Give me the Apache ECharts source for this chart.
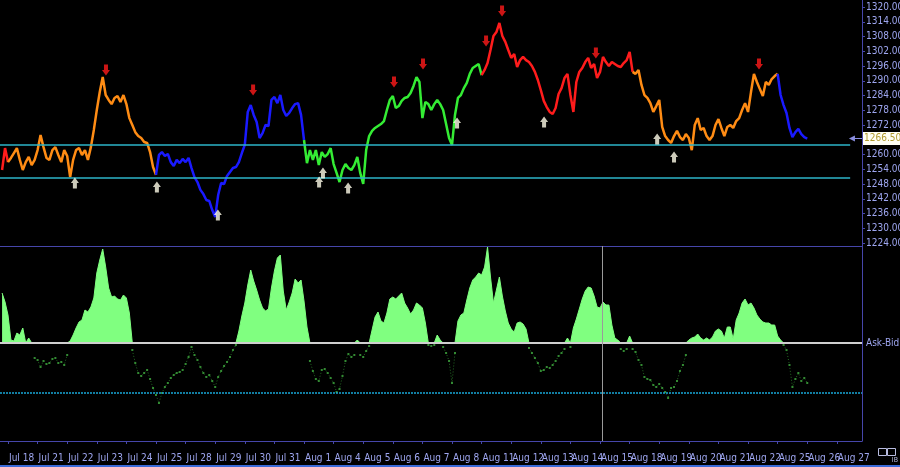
<!DOCTYPE html>
<html>
<head>
<meta charset="utf-8">
<script src="https://cdn.jsdelivr.net/npm/echarts@6/dist/echarts.min.js"></script>
<style>
  html, body { margin: 0; padding: 0; background: #000; }
  #chart { width: 900px; height: 467px; }
</style>
</head>
<body>
<div id="chart"></div>
<script>
// trading days on the x axis (one unit = one session)
const days = ['Jul 18', 'Jul 21', 'Jul 22', 'Jul 23', 'Jul 24', 'Jul 25', 'Jul 28', 'Jul 29', 'Jul 30', 'Jul 31',
  'Aug 1', 'Aug 4', 'Aug 5', 'Aug 6', 'Aug 7', 'Aug 8', 'Aug 11', 'Aug 12', 'Aug 13', 'Aug 14', 'Aug 15',
  'Aug 18', 'Aug 19', 'Aug 20', 'Aug 21', 'Aug 22', 'Aug 25', 'Aug 26', 'Aug 27'];

const priceTicks = [1224, 1230, 1236, 1242, 1248, 1254, 1260, 1272, 1278, 1284, 1290, 1296, 1302, 1308, 1314, 1320];

// samples: 10 per session, first one 0.2 session before Jul 18
const SAMPLE_START = -0.2;
const SAMPLES_PER_DAY = 10;

const price = [
  1253.7, 1262.6,
  1256.9, 1258.6, 1260.6, 1262.6, 1257.8, 1253.7, 1256.9, 1259.0, 1255.7, 1257.8,
  1261.8, 1267.9, 1263.0, 1258.6, 1257.8, 1261.8, 1263.0, 1259.8, 1256.9, 1261.8,
  1259.4, 1250.8, 1257.8, 1261.8, 1262.6, 1259.8, 1261.8, 1257.8, 1263.0, 1270.0,
  1278.1, 1285.4, 1291.5, 1284.2, 1282.2, 1280.5, 1283.0, 1283.8, 1281.4, 1284.2,
  1280.5, 1274.8, 1272.0, 1269.1, 1267.5, 1266.7, 1265.1, 1264.7, 1261.0, 1254.9,
  1251.7, 1259.8, 1261.0, 1259.4, 1260.2, 1256.9, 1255.3, 1257.8, 1256.5, 1258.2,
  1256.9, 1258.6, 1254.5, 1250.8, 1248.8, 1245.6, 1243.9, 1241.5, 1241.1, 1237.4,
  1234.6, 1243.5, 1248.4, 1248.0, 1251.3, 1252.9, 1254.5, 1254.9, 1256.9, 1260.6,
  1263.9, 1277.3, 1280.1, 1276.1, 1273.2, 1266.7, 1268.7, 1272.0, 1271.6, 1282.2,
  1283.4, 1280.9, 1284.2, 1278.1, 1275.7, 1276.9, 1278.9, 1280.5, 1280.9, 1276.1,
  1265.9, 1256.5, 1261.8, 1257.8, 1261.8, 1255.7, 1261.0, 1259.0, 1260.2, 1262.6,
  1256.1, 1252.5, 1248.8, 1253.7, 1256.1, 1254.5, 1253.7, 1255.7, 1259.0, 1252.5,
  1248.0, 1261.8, 1267.5, 1269.6, 1270.8, 1271.6, 1272.4, 1273.6, 1278.1, 1282.2,
  1283.8, 1278.9, 1279.7, 1281.8, 1283.0, 1283.4, 1285.0, 1287.9, 1291.5, 1289.5,
  1274.8, 1281.4, 1280.5, 1278.1, 1280.5, 1282.2, 1280.5, 1278.1, 1272.4, 1266.7,
  1263.9, 1276.1, 1283.0, 1284.2, 1287.0, 1289.1, 1292.8, 1295.2, 1296.0, 1296.8,
  1292.3, 1294.4, 1297.2, 1302.5, 1308.2, 1309.8, 1313.5, 1308.2, 1305.8, 1302.5,
  1299.3, 1300.9, 1295.6, 1298.4, 1299.7, 1298.4, 1297.6, 1296.0, 1293.6, 1290.3,
  1286.2, 1281.8, 1279.3, 1277.3, 1276.5, 1278.9, 1284.6, 1287.0, 1291.1, 1292.8,
  1284.2, 1277.3, 1289.5, 1293.6, 1295.2, 1297.6, 1299.3, 1295.2, 1296.8, 1291.1,
  1293.6, 1299.7, 1297.6, 1296.0, 1297.6, 1296.8, 1296.0, 1295.6, 1297.2, 1298.4,
  1301.7, 1293.6, 1292.8, 1294.4, 1288.3, 1284.2, 1283.0, 1280.9, 1277.3, 1279.7,
  1282.2, 1271.2, 1267.5, 1265.9, 1264.7, 1267.5, 1269.6, 1267.1, 1265.9, 1268.3,
  1266.7, 1261.8, 1272.0, 1274.8, 1270.0, 1270.8, 1267.5, 1265.9, 1267.5, 1272.0,
  1274.4, 1270.8, 1267.5, 1271.2, 1272.0, 1270.8, 1273.6, 1274.8, 1278.1, 1280.9,
  1277.3, 1285.4, 1292.8, 1289.5, 1286.6, 1283.8, 1289.5, 1288.3, 1290.7, 1291.9,
  1292.8, 1284.2, 1280.1, 1276.9, 1270.8, 1267.1, 1269.1, 1270.4, 1268.3, 1267.1,
  1266.5
];

// sample index where the trend colour changes, and the trend state of each stretch
const trendBreaks = [0, 2, 52, 102, 162, 213, 262, 272];
const trendState = ['down', 'range', 'weak', 'up', 'down', 'range', 'weak'];

// ask-bid oscillator, same sampling as price
const askBid = [
  50, 41,
  28, 3, 2, 10, 8, 15, 0, 5, 0, -15,
  -17, -24, -18, -21, -20, -16, -15, -20, -19, -22,
  -12, 2, 8, 15, 21, 23, 33, 31, 36, 45,
  70, 83, 94, 76, 55, 46, 47, 44, 43, 48,
  45, 30, -7, -20, -30, -33, -30, -27, -36, -45,
  -52, -60, -50, -44, -40, -35, -32, -30, -29, -27,
  -21, -14, -4, -12, -17, -24, -30, -34, -32, -38,
  -44, -34, -28, -23, -19, -14, -7, -2, 12, 27,
  40, 58, 73, 62, 53, 43, 35, 32, 34, 55,
  72, 85, 88, 52, 33, 41, 50, 64, 60, 63,
  42, 16, -18, -28, -36, -38, -27, -26, -30, -35,
  -40, -49, -46, -33, -18, -11, -14, -12, 3, -12,
  -14, -8, -3, 13, 26, 31, 22, 20, 30, 44,
  46, 44, 47, 50, 40, 35, 29, 33, 40, 38,
  35, 20, -2, -3, -2, 8, 3, -4, -10, -18,
  -40, -10, 22, 28, 30, 43, 55, 63, 66, 70,
  68, 76, 96, 66, 40, 53, 66, 47, 32, 20,
  14, 11, 20, 21, 19, 14, -5, -10, -15, -20,
  -28, -27, -24, -25, -22, -18, -13, -10, -6, 5,
  -4, 15, 24, 34, 44, 52, 56, 55, 47, 36,
  35, 41, 38, 38, 18, 5, 3, -6, -8, -6,
  7, -6, -9, -17, -22, -34, -36, -37, -42, -44,
  -41, -45, -49, -55, -45, -44, -38, -28, -22, -12,
  3, 5, 6, 9, 5, 3, 5, 3, 6, 12,
  14, 12, 5, 16, 16, 4, 23, 30, 40, 44,
  38, 40, 35, 28, 24, 21, 20, 20, 18, 18,
  7, 3, -2, -7, -22, -44, -36, -30, -38, -35,
  -40
];

// signal arrows [session, price]
const sellSignals = [[3.31, 1294.4], [8.28, 1286.2], [13.04, 1289.5], [14.02, 1296.8],
  [16.15, 1306.2], [16.69, 1318.4], [19.86, 1301.3], [25.37, 1296.8]];
const buySignals = [[2.26, 1248.4], [5.03, 1246.8], [7.09, 1235.4], [10.51, 1248.8], [10.64, 1252.5],
  [11.49, 1246.4], [15.17, 1272.8], [18.11, 1273.2], [21.93, 1266.3], [22.50, 1259.0]];

const supportLevels = [1263.8, 1250.5];
const lastPrice = 1266.5;
const askBidLevel = -50;
const cursorDay = 20.07;

// ---- styling ----
const FONT = "'Liberation Sans Narrow', 'DejaVu Sans Condensed', 'Liberation Sans', Arial, sans-serif";
const AXIS_COLOR = '#4646aa';
const LABEL_COLOR = '#9ea6f0';
const trendPalette = { down: '#ff1c1c', range: '#ff8c14', weak: '#1a1aff', up: '#34ec34' };
const X_MIN = -0.27;
const X_MAX = 28.85;
const ARROW_UP = 'path://M5,0 L10,5 L7.5,5 L7.5,10 L2.5,10 L2.5,5 L0,5 Z';
const ARROW_DOWN = 'path://M2.5,0 L7.5,0 L7.5,5 L10,5 L5,10 L0,5 L2.5,5 Z';

function dayAt(i) {
  return Math.round((SAMPLE_START + i / SAMPLES_PER_DAY) * 100) / 100;
}

const dayTicks = days.map((d, i) => i);
// labels sit tight; split them over two axes so none gets hidden as an overlap
const evenDays = dayTicks.filter((d) => d % 2 === 0);
const oddDays = dayTicks.filter((d) => d % 2 === 1);

const dayLabel = {
  formatter: (v) => days[Math.round(v)] || '',
  hideOverlap: false,
  showMinLabel: true,
  showMaxLabel: true,
  align: 'left',
  margin: 12,
  padding: [0, 0, 0, 1],
  color: LABEL_COLOR,
  fontSize: 10,
  fontFamily: FONT,
};

const series = [];

// price line, one series per trend stretch
trendState.forEach((state, k) => {
  const from = trendBreaks[k];
  const to = trendBreaks[k + 1];
  const data = [];
  for (let i = from; i <= to; i++) data.push([dayAt(i), price[i]]);
  series.push({
    type: 'line',
    xAxisIndex: 0,
    yAxisIndex: 0,
    data,
    showSymbol: false,
    lineStyle: { color: trendPalette[state], width: 2.5 },
    itemStyle: { color: trendPalette[state] },
    z: 3,
  });
});

series.push({
  type: 'scatter',
  xAxisIndex: 0,
  yAxisIndex: 0,
  data: sellSignals,
  symbol: ARROW_DOWN,
  symbolSize: [8, 11],
  itemStyle: { color: '#ff1a1a' },
  z: 6,
});
series.push({
  type: 'scatter',
  xAxisIndex: 0,
  yAxisIndex: 0,
  data: buySignals,
  symbol: ARROW_UP,
  symbolSize: [8, 11],
  itemStyle: { color: '#fffde8' },
  z: 6,
});

// support lines and last price flag
series.push({
  type: 'line',
  xAxisIndex: 0,
  yAxisIndex: 0,
  data: [],
  clip: false,
  z: 5,
  markLine: {
    silent: true,
    symbol: 'none',
    animation: false,
    data: [
      [{ coord: [X_MIN, supportLevels[0]] }, { coord: [28.45, supportLevels[0]] }],
      [{ coord: [X_MIN, supportLevels[1]] }, { coord: [28.45, supportLevels[1]] }],
      [
        {
          coord: [28.51, lastPrice],
          symbol: 'triangle',
          symbolSize: 6,
          lineStyle: { color: '#8a8ee0', width: 1 },
        },
        {
          coord: [X_MAX, lastPrice],
          label: {
            show: true,
            position: 'end',
            distance: 1,
            formatter: lastPrice.toFixed(2),
            color: '#b09a30',
            backgroundColor: '#fffff4',
            fontFamily: FONT,
            fontSize: 10,
            padding: [2, 1, 1, 1],
          },
        },
      ],
    ],
    lineStyle: { color: '#2cb4c8', width: 1.5, type: 'solid' },
    label: { show: false },
  },
});

// lower panel: zero line, band line, cursor + dotted negative readings
series.push({
  type: 'line',
  xAxisIndex: 1,
  yAxisIndex: 1,
  data: askBid.map((v, i) => [dayAt(i), v < 0 ? v : null]),
  showSymbol: true,
  symbol: 'rect',
  symbolSize: 2,
  itemStyle: { color: '#338a33' },
  lineStyle: { color: '#246c24', width: 1, type: [1, 2] },
  z: 1,
  markLine: {
    silent: true,
    symbol: 'none',
    animation: false,
    label: { show: false },
    data: [
      { yAxis: 0, lineStyle: { color: '#cfcfcf', width: 2, type: 'solid' } },
      { yAxis: askBidLevel, lineStyle: { color: '#18a8d8', width: 1.5, type: [2, 1] } },
      { xAxis: cursorDay, lineStyle: { color: '#9a9a9a', width: 1, type: 'solid' } },
    ],
  },
});

series.push({
  type: 'line',
  xAxisIndex: 1,
  yAxisIndex: 1,
  data: askBid.map((v, i) => [dayAt(i), v > 0 ? v : 0]),
  showSymbol: false,
  lineStyle: { color: '#80ff80', width: 1 },
  areaStyle: { color: '#80ff80', opacity: 1 },
  z: 3,
});

const option = {
  backgroundColor: '#000000',
  animation: false,
  grid: [
    { left: 0, right: 38, top: 0, height: 246, outerBoundsMode: 'none', containLabel: false },
    { left: 0, right: 38, top: 246, height: 195, outerBoundsMode: 'none', containLabel: false },
  ],
  xAxis: [
    {
      gridIndex: 0,
      type: 'value',
      min: X_MIN,
      max: X_MAX,
      axisLine: { show: true, onZero: false, lineStyle: { color: AXIS_COLOR, width: 1 } },
      axisTick: { show: false },
      axisLabel: { show: false },
      splitLine: { show: false },
    },
    {
      gridIndex: 1,
      type: 'value',
      min: X_MIN,
      max: X_MAX,
      axisLine: { show: true, onZero: false, lineStyle: { color: AXIS_COLOR, width: 1 } },
      axisTick: { show: true, customValues: dayTicks, length: 3, lineStyle: { color: AXIS_COLOR } },
      axisLabel: Object.assign({ customValues: evenDays }, dayLabel),
      splitLine: { show: false },
    },
    {
      gridIndex: 1,
      type: 'value',
      position: 'bottom',
      min: X_MIN,
      max: X_MAX,
      axisLine: { show: false },
      axisTick: { show: false },
      axisLabel: Object.assign({ customValues: oddDays }, dayLabel),
      splitLine: { show: false },
    },
  ],
  yAxis: [
    {
      gridIndex: 0,
      type: 'value',
      position: 'right',
      min: 1222.78,
      max: 1322.85,
      axisLine: { show: true, onZero: false, lineStyle: { color: AXIS_COLOR, width: 1 } },
      axisTick: { show: true, customValues: priceTicks, length: 3, lineStyle: { color: AXIS_COLOR } },
      axisLabel: {
        customValues: priceTicks,
        formatter: (v) => Number(v).toFixed(2),
        margin: 4,
        color: LABEL_COLOR,
        fontSize: 10,
        fontFamily: FONT,
      },
      splitLine: { show: false },
    },
    {
      gridIndex: 1,
      type: 'value',
      position: 'right',
      min: -98,
      max: 97,
      axisLine: { show: true, onZero: false, lineStyle: { color: AXIS_COLOR, width: 1 } },
      axisTick: { show: false },
      axisLabel: {
        customValues: [0],
        formatter: () => 'Ask-Bid',
        margin: 4,
        color: LABEL_COLOR,
        fontSize: 10,
        fontFamily: FONT,
      },
      splitLine: { show: false },
    },
  ],
  graphic: [
    { type: 'rect', right: 11, top: 446, shape: { width: 8, height: 7 }, style: { fill: 'none', stroke: '#b8bce0', lineWidth: 1 } },
    { type: 'rect', right: 2, top: 446, shape: { width: 8, height: 7 }, style: { fill: 'none', stroke: '#b8bce0', lineWidth: 1 } },
    { type: 'text', right: 2, top: 457, style: { text: 'IB', fill: '#b8bce0', font: '7px ' + FONT } },
    { type: 'rect', left: 0, top: 465, shape: { width: 900, height: 2 }, style: { fill: '#3a6ad8' } },
  ],
  series,
};

const chart = echarts.init(document.getElementById('chart'), null, { renderer: 'canvas' });
chart.setOption(option);
</script>
</body>
</html>
